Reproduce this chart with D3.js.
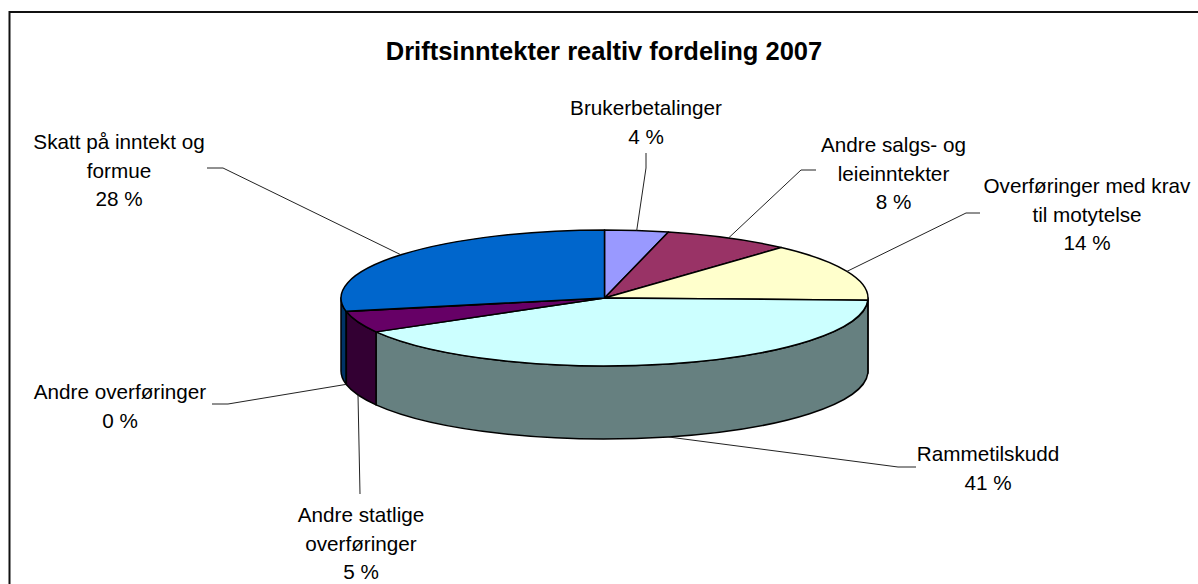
<!DOCTYPE html>
<html>
<head>
<meta charset="utf-8">
<script src="https://d3js.org/d3.v7.min.js"></script>
<style>
  html, body { margin: 0; padding: 0; background: #fff; }
  svg { display: block; }
  text { font-family: "Liberation Sans", Arial, sans-serif; fill: #000; }
</style>
</head>
<body>
<div id="visualization"></div>
<script>
const categories = ["Brukerbetalinger", "Andre salgs- og leieinntekter", "Overføringer med krav til motytelse",
  "Rammetilskudd", "Andre statlige overføringer", "Andre overføringer", "Skatt på inntekt og formue"];
const values = [3.9, 7.8, 13.8, 41.2, 5.1, 0.1, 28.1];
const topColors = ["#9999ff", "#993366", "#ffffcc", "#ccffff", "#660066", "#ff8080", "#0066cc"];
const sideColors = ["#4d4d80", "#4d1a33", "#808066", "#668080", "#330033", "#804040", "#003366"];

// label wrapping and placement, same order as categories
const labelLines = [
  ["Brukerbetalinger"],
  ["Andre salgs- og", "leieinntekter"],
  ["Overføringer med krav", "til motytelse"],
  ["Rammetilskudd"],
  ["Andre statlige", "overføringer"],
  ["Andre overføringer"],
  ["Skatt på inntekt og", "formue"]
];
const labelPos = [[646, 115], [893.5, 152], [1087, 193], [988, 461], [361, 522], [120, 399], [119, 149]];
// elbow of each leader line: [end near label, bend]
const leaderElbow = [
  [[646, 153], [646, 168]],
  [[816, 170], [801, 170]],
  [[980, 213], [966, 213]],
  [[916, 467], [898, 467]],
  [[360, 494], [360, 494]],
  [[212, 404], [228, 404]],
  [[207, 168], [223, 168]]
];

const width = 1198, height = 584;
const cx = 604.5, cy = 298, rx = 263.5, ry = 68, depth = 73;
const fontSize = 20.7, lineGap = 28.5;

const svg = d3.select("#visualization").append("svg")
  .attr("width", width)
  .attr("height", height);

// frame, runs off the right and bottom of the picture
svg.append("path")
  .attr("d", `M9.5,${height + 2}V12H${width + 2}`)
  .attr("fill", "none")
  .attr("stroke", "#111")
  .attr("stroke-width", 2);

svg.append("text")
  .attr("x", 604)
  .attr("y", 60)
  .attr("text-anchor", "middle")
  .attr("font-weight", "bold")
  .attr("font-size", "25.5px")
  .text("Driftsinntekter realtiv fordeling 2007");

const slices = d3.pie().sort(null).value(d => d)(values);
const px = a => cx + rx * Math.sin(a);
const py = a => cy - ry * Math.cos(a);

// side wall, only the front half of the disc shows
const wall = d => {
  const a0 = Math.max(d.startAngle, Math.PI / 2);
  const a1 = Math.min(d.endAngle, Math.PI * 1.5);
  if (a1 <= a0) return null;
  return `M${px(a0)},${py(a0)}A${rx},${ry} 0 0 1 ${px(a1)},${py(a1)}` +
    `V${py(a1) + depth}A${rx},${ry} 0 0 0 ${px(a0)},${py(a0) + depth}Z`;
};

svg.append("g")
  .selectAll("path")
  .data(slices)
  .join("path")
  .attr("d", wall)
  .attr("fill", (d, i) => sideColors[i])
  .attr("stroke", "#000")
  .attr("stroke-width", 1.5)
  .attr("stroke-linejoin", "round");

const arc = d3.arc().innerRadius(0).outerRadius(rx);

svg.append("g")
  .attr("transform", `translate(${cx},${cy}) scale(1,${ry / rx})`)
  .selectAll("path")
  .data(slices)
  .join("path")
  .attr("d", arc)
  .attr("fill", (d, i) => topColors[i])
  .attr("stroke", "#000")
  .attr("stroke-width", 1.5)
  .attr("stroke-linejoin", "round")
  .attr("vector-effect", "non-scaling-stroke");

// leader lines end on the slice rim at its middle angle
const leaderEnd = d => {
  const a = (d.startAngle + d.endAngle) / 2;
  const front = Math.cos(a) < 0;
  return [px(a), py(a) + (front ? depth : 0)];
};

svg.append("g")
  .selectAll("path")
  .data(slices)
  .join("path")
  .attr("d", (d, i) => d3.line()([...leaderElbow[i], leaderEnd(d)]))
  .attr("fill", "none")
  .attr("stroke", "#222")
  .attr("stroke-width", 1);

const label = svg.append("g")
  .selectAll("text")
  .data(slices)
  .join("text")
  .attr("text-anchor", "middle")
  .attr("font-size", fontSize + "px")
  .attr("transform", (d, i) => `translate(${labelPos[i][0]},${labelPos[i][1]})`);

label.selectAll("tspan")
  .data((d, i) => [...labelLines[i], Math.round(values[i]) + " %"])
  .join("tspan")
  .attr("x", 0)
  .attr("y", (d, j) => j * lineGap)
  .text(d => d);
</script>
</body>
</html>
